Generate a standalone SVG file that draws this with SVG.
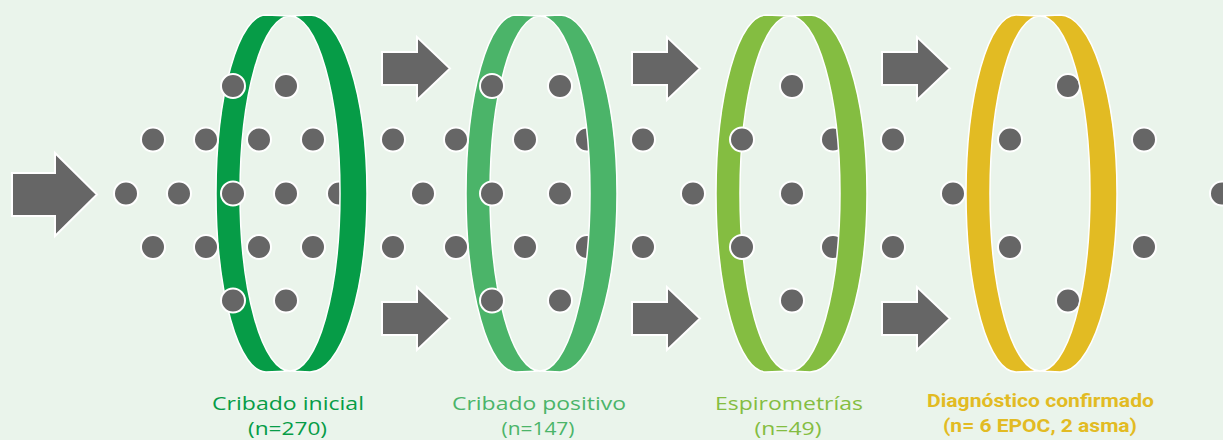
<svg xmlns="http://www.w3.org/2000/svg" width="1223" height="440" viewBox="0 0 1223 440">
<defs>
<style>
.bg{fill:#eaf4eb}
.dot{fill:#666666;stroke:#ffffff;stroke-width:2}
.arrow{fill:#666666;stroke:#ffffff;stroke-width:2;stroke-linejoin:miter}
.cres{stroke:#ffffff;stroke-width:1.5;stroke-linejoin:round}
.g1{fill:#069c47}.g2{fill:#4bb469}.g3{fill:#84bd41}.g4{fill:#e2bb23}
.lbl{font-family:"Open Sans","Liberation Sans",sans-serif;font-size:18px;font-weight:500;text-anchor:middle}
.lblb{font-family:Roboto,"Liberation Sans",sans-serif;font-size:19px;font-weight:bold;text-anchor:middle}
</style>
<path id="arrowSmall" d="M0,15 H35 V0 L68,31.5 L35,63 V48 H0 Z"/>
</defs>
<rect class="bg" x="0" y="0" width="1223" height="440"/>

<g id="connectors">
<path class="arrow" d="M12,173 H55 V153 L97,194.5 L55,236 V216 H12 Z"/>
<use href="#arrowSmall" class="arrow" x="382" y="37"/>
<use href="#arrowSmall" class="arrow" x="382" y="287"/>
<use href="#arrowSmall" class="arrow" x="632" y="37"/>
<use href="#arrowSmall" class="arrow" x="632" y="287"/>
<use href="#arrowSmall" class="arrow" x="882" y="37"/>
<use href="#arrowSmall" class="arrow" x="882" y="287"/>
</g>

<g id="stage1">
<path class="cres g1" d="M290,16 L266,15 A50,178.5 0 0 0 266,372 L290,371 A50,177.5 0 0 1 290,16 Z"/>
<circle class="dot" cx="126" cy="193.5" r="12"/>
<circle class="dot" cx="179" cy="193.5" r="12"/>
<circle class="dot" cx="153" cy="139.5" r="12"/>
<circle class="dot" cx="206" cy="139.5" r="12"/>
<circle class="dot" cx="153" cy="247" r="12"/>
<circle class="dot" cx="206" cy="247" r="12"/>
<circle class="dot" cx="233" cy="86" r="12"/>
<circle class="dot" cx="286" cy="86" r="12"/>
<circle class="dot" cx="259" cy="139.5" r="12"/>
<circle class="dot" cx="313" cy="139.5" r="12"/>
<circle class="dot" cx="233" cy="193.5" r="12"/>
<circle class="dot" cx="286" cy="193.5" r="12"/>
<circle class="dot" cx="339" cy="193.5" r="12"/>
<circle class="dot" cx="259" cy="247" r="12"/>
<circle class="dot" cx="313" cy="247" r="12"/>
<circle class="dot" cx="233" cy="300.5" r="12"/>
<circle class="dot" cx="286" cy="300.5" r="12"/>
<path class="cres g1" d="M290,16 L310,15 A57,178.5 0 0 1 310,372 L290,371 A50,177.5 0 0 0 290,16 Z"/>
<text class="lbl" fill="#069c47" x="288" y="410" textLength="152" lengthAdjust="spacingAndGlyphs">Cribado inicial</text>
<text class="lbl" fill="#069c47" x="287.5" y="434.5" textLength="79" lengthAdjust="spacingAndGlyphs">(n=270)</text>
</g>

<g id="stage2">
<path class="cres g2" d="M540,16 L516,15 A50,178.5 0 0 0 516,372 L540,371 A50,177.5 0 0 1 540,16 Z"/>
<circle class="dot" cx="393" cy="139.5" r="12"/>
<circle class="dot" cx="456" cy="139.5" r="12"/>
<circle class="dot" cx="525" cy="139.5" r="12"/>
<circle class="dot" cx="587" cy="139.5" r="12"/>
<circle class="dot" cx="393" cy="247" r="12"/>
<circle class="dot" cx="456" cy="247" r="12"/>
<circle class="dot" cx="525" cy="247" r="12"/>
<circle class="dot" cx="587" cy="247" r="12"/>
<circle class="dot" cx="423" cy="193.5" r="12"/>
<circle class="dot" cx="492" cy="193.5" r="12"/>
<circle class="dot" cx="560" cy="193.5" r="12"/>
<circle class="dot" cx="492" cy="86" r="12"/>
<circle class="dot" cx="560" cy="86" r="12"/>
<circle class="dot" cx="492" cy="300.5" r="12"/>
<circle class="dot" cx="560" cy="300.5" r="12"/>
<path class="cres g2" d="M540,16 L560,15 A57,178.5 0 0 1 560,372 L540,371 A50,177.5 0 0 0 540,16 Z"/>
<text class="lbl" fill="#4bb469" x="539" y="410" textLength="174" lengthAdjust="spacingAndGlyphs">Cribado positivo</text>
<text class="lbl" fill="#4bb469" x="538" y="434.5" textLength="73" lengthAdjust="spacingAndGlyphs">(n=147)</text>
</g>

<g id="stage3">
<path class="cres g3" d="M790,16 L766,15 A50,178.5 0 0 0 766,372 L790,371 A50,177.5 0 0 1 790,16 Z"/>
<circle class="dot" cx="643" cy="139.5" r="12"/>
<circle class="dot" cx="742" cy="139.5" r="12"/>
<circle class="dot" cx="833" cy="139.5" r="12"/>
<circle class="dot" cx="893" cy="139.5" r="12"/>
<circle class="dot" cx="643" cy="247" r="12"/>
<circle class="dot" cx="742" cy="247" r="12"/>
<circle class="dot" cx="833" cy="247" r="12"/>
<circle class="dot" cx="893" cy="247" r="12"/>
<circle class="dot" cx="693" cy="193.5" r="12"/>
<circle class="dot" cx="792" cy="193.5" r="12"/>
<circle class="dot" cx="792" cy="86" r="12"/>
<circle class="dot" cx="792" cy="300.5" r="12"/>
<path class="cres g3" d="M790,16 L810,15 A57,178.5 0 0 1 810,372 L790,371 A50,177.5 0 0 0 790,16 Z"/>
<text class="lbl" fill="#84bd41" x="789" y="410" textLength="148" lengthAdjust="spacingAndGlyphs">Espirometrías</text>
<text class="lbl" fill="#84bd41" x="788" y="434.5" textLength="67" lengthAdjust="spacingAndGlyphs">(n=49)</text>
</g>

<g id="stage4">
<path class="cres g4" d="M1040,16 L1016,15 A50,178.5 0 0 0 1016,372 L1040,371 A50,177.5 0 0 1 1040,16 Z"/>
<circle class="dot" cx="953" cy="193.5" r="12"/>
<circle class="dot" cx="1222" cy="193.5" r="12"/>
<circle class="dot" cx="1010" cy="139.5" r="12"/>
<circle class="dot" cx="1144" cy="139.5" r="12"/>
<circle class="dot" cx="1010" cy="247" r="12"/>
<circle class="dot" cx="1144" cy="247" r="12"/>
<circle class="dot" cx="1068" cy="86" r="12"/>
<circle class="dot" cx="1068" cy="300.5" r="12"/>
<path class="cres g4" d="M1040,16 L1060,15 A57,178.5 0 0 1 1060,372 L1040,371 A50,177.5 0 0 0 1040,16 Z"/>
<text class="lblb" fill="#e2bb23" x="1040.5" y="407" textLength="227" lengthAdjust="spacingAndGlyphs">Diagnóstico confirmado</text>
<text class="lblb" fill="#e2bb23" x="1040" y="432" textLength="194" lengthAdjust="spacingAndGlyphs">(n= 6 EPOC, 2 asma)</text>
</g>
</svg>
